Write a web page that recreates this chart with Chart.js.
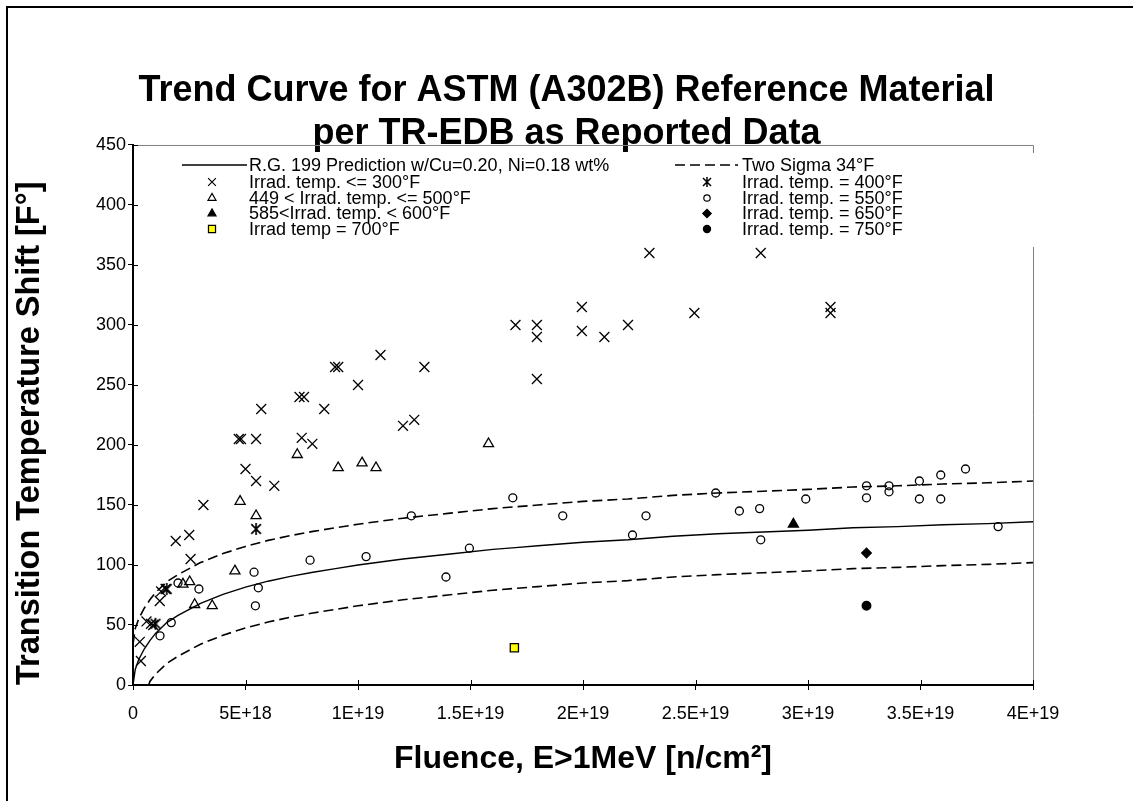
<!DOCTYPE html>
<html>
<head>
<meta charset="utf-8">
<script src="https://cdn.jsdelivr.net/npm/chart.js@4.4.1/dist/chart.umd.min.js"></script>
<style>
html,body{margin:0;padding:0;background:#fff;}
#wrap{position:relative;width:1133px;height:801px;}
</style>
</head>
<body>
<div id="wrap"><canvas id="c" width="1133" height="801"></canvas></div>
<script>
// ---------------- DATA ----------------
const chartTitle = ['Trend Curve for ASTM (A302B) Reference Material', 'per TR-EDB as Reported Data'];
const xAxisTitle = 'Fluence, E>1MeV [n/cm\u00B2]';
const yAxisTitle = 'Transition Temperature Shift [F\u00B0]';

const xTickValues = [0, 5e18, 1e19, 1.5e19, 2e19, 2.5e19, 3e19, 3.5e19, 4e19];
const xTickLabels = ['0', '5E+18', '1E+19', '1.5E+19', '2E+19', '2.5E+19', '3E+19', '3.5E+19', '4E+19'];
const yTickValues = [0, 50, 100, 150, 200, 250, 300, 350, 400, 450];
const yTickLabels = ['0', '50', '100', '150', '200', '250', '300', '350', '400', '450'];

// R.G. 199 prediction curve and two-sigma bands
const predFluence = [0, 0.1e18, 0.25e18, 0.5e18, 0.75e18, 1e18, 1.5e18, 2e18, 2.5e18, 3e18, 4e18, 5e18, 6e18, 7e18, 8e18, 9e18, 1e19, 1.2e19, 1.4e19, 1.6e19, 1.7e19, 1.8e19, 2e19, 2.2e19, 2.4e19, 2.6e19, 2.8e19, 3e19, 3.2e19, 3.4e19, 3.6e19, 3.8e19, 4e19];
const predShift   = [0, 13, 21, 30, 37, 43, 52, 58, 63, 68, 75.5, 81.5, 86.5, 90.5, 94, 97, 100, 105, 109, 113, 114.5, 116, 119, 121, 124, 126, 127.5, 129, 131, 132, 133.5, 134.5, 136];
const upperShift  = [34, 47, 55, 64, 71, 77, 86, 92, 97, 102, 109.5, 115.5, 120.5, 124.5, 128, 131, 134, 139, 143, 147, 148.5, 150, 153, 155, 158, 160, 161.5, 163, 165, 166, 167.5, 168.5, 170];
const lowerFluence = [0.7e18, 0.75e18, 1e18, 1.5e18, 2e18, 2.5e18, 3e18, 4e18, 5e18, 6e18, 7e18, 8e18, 9e18, 1e19, 1.2e19, 1.4e19, 1.6e19, 1.7e19, 1.8e19, 2e19, 2.2e19, 2.4e19, 2.6e19, 2.8e19, 3e19, 3.2e19, 3.4e19, 3.6e19, 3.8e19, 4e19];
const lowerShift   = [0, 3, 9, 18, 24, 29, 34, 41.5, 47.5, 52.5, 56.5, 60, 63, 66, 71, 75, 79, 80.5, 82, 85, 87, 90, 92, 93.5, 95, 97, 98, 99.5, 100.5, 102];

// Irrad. temp. <= 300F
const t300Fluence = [0.35e18, 0.3e18, 0.6e18, 0.8e18, 0.9e18, 1.19e18, 1.25e18, 1.45e18, 1.9e18, 2.5e18, 2.56e18, 3.13e18, 4.7e18, 4.8e18, 5.0e18, 5.47e18, 5.47e18, 5.7e18, 6.28e18, 7.4e18, 7.6e18, 7.5e18, 7.97e18, 8.5e18, 8.98e18, 9.12e18, 10e18, 11e18, 12e18, 12.5e18, 12.95e18, 17e18, 17.95e18, 17.95e18, 17.95e18, 19.95e18, 19.95e18, 20.95e18, 22e18, 22.95e18, 24.95e18, 27.9e18, 31e18, 31e18];
const t300Shift   = [20, 36, 53, 51, 50, 70, 78, 80, 120, 125, 105, 150, 205, 205, 180, 205, 170, 230, 166, 240, 240, 206, 201, 230, 265, 265, 250, 275, 216, 221, 265, 300, 300, 290, 255, 315, 295, 290, 300, 360, 310, 360, 315, 310];
// Irrad. temp. = 400F
const t400Fluence = [1.0e18, 1.5e18, 5.47e18];
const t400Shift   = [51, 80, 130];
// 449 < Irrad. temp. <= 500F
const t500Fluence = [2.22e18, 2.52e18, 2.74e18, 3.52e18, 4.53e18, 4.76e18, 5.47e18, 7.3e18, 9.12e18, 10.18e18, 10.8e18, 15.8e18];
const t500Shift   = [84, 86, 67, 66, 95, 153, 141, 192, 181, 185, 181, 201];
// Irrad. temp. = 550F
const t550Fluence = [1.2e18, 1.7e18, 2.0e18, 2.93e18, 5.38e18, 5.57e18, 5.44e18, 7.87e18, 10.36e18, 12.37e18, 13.91e18, 14.95e18, 16.88e18, 19.1e18, 22.2e18, 22.8e18, 25.9e18, 26.95e18, 27.85e18, 27.9e18, 29.9e18, 32.6e18, 32.6e18, 33.6e18, 33.6e18, 34.95e18, 34.95e18, 35.9e18, 35.9e18, 37e18, 38.45e18];
const t550Shift   = [41, 52, 85, 80, 94, 81, 66, 104, 107, 141, 90, 114, 156, 141, 125, 141, 160, 145, 147, 121, 155, 166, 156, 166, 161, 170, 155, 175, 155, 180, 132];
// 585 < Irrad. temp. < 600F
const t600Fluence = [29.35e18];
const t600Shift   = [134];
// Irrad. temp. = 650F
const t650Fluence = [32.6e18];
const t650Shift   = [110];
// Irrad temp = 700F
const t700Fluence = [16.95e18];
const t700Shift   = [31];
// Irrad. temp. = 750F
const t750Fluence = [32.6e18];
const t750Shift   = [66];

// ---------------- STYLE ----------------
const FONT = '"Liberation Sans", Arial, Helvetica, sans-serif';

function makeAsterisk(size, lw) {
  const c = document.createElement('canvas');
  c.width = size; c.height = size;
  const g = c.getContext('2d');
  g.strokeStyle = '#000'; g.lineWidth = lw;
  const m = size / 2, h = size / 2 - 1;
  g.beginPath();
  g.moveTo(m - h * 0.8, m - h * 0.8); g.lineTo(m + h * 0.8, m + h * 0.8);
  g.moveTo(m + h * 0.8, m - h * 0.8); g.lineTo(m - h * 0.8, m + h * 0.8);
  g.moveTo(m, m - h); g.lineTo(m, m + h);
  g.stroke();
  return c;
}
const asteriskBig = makeAsterisk(14, 1.7);
const asteriskSmall = makeAsterisk(12, 1.5);

const pts = (xs, ys) => xs.map((x, i) => ({x: x, y: ys[i]}));

function markerSet(label, xs, ys, style, radius, fill, legendStyle, legendRadius) {
  return {
    label: label,
    data: pts(xs, ys),
    showLine: false,
    pointStyle: style,
    pointRadius: radius,
    pointHoverRadius: radius,
    pointBorderColor: '#000',
    pointBackgroundColor: fill,
    pointBorderWidth: 1.3,
    legendStyle: legendStyle || style,
    legendRadius: legendRadius
  };
}

const datasets = [
  {label: 'R.G. 199 Prediction w/Cu=0.20, Ni=0.18 wt%', data: pts(predFluence, predShift), showLine: true, borderColor: '#000', borderWidth: 1.4, pointRadius: 0, tension: 0, fill: false, isLine: true},
  {label: 'Two Sigma 34\u00B0F', data: pts(predFluence, upperShift), showLine: true, borderColor: '#000', borderWidth: 1.6, borderDash: [10, 5], pointRadius: 0, tension: 0, fill: false, isLine: true},
  {label: 'Two Sigma lower', data: pts(lowerFluence, lowerShift), showLine: true, borderColor: '#000', borderWidth: 1.6, borderDash: [10, 5], pointRadius: 0, tension: 0, fill: false, isLine: true},
  markerSet('Irrad. temp. <= 300\u00B0F', t300Fluence, t300Shift, 'crossRot', 7, 'rgba(0,0,0,0)', 'crossRot', 5.5),
  markerSet('Irrad. temp. = 400\u00B0F', t400Fluence, t400Shift, asteriskBig, 7, 'rgba(0,0,0,0)', asteriskSmall, 5),
  markerSet('449 < Irrad. temp. <= 500\u00B0F', t500Fluence, t500Shift, 'triangle', 5.8, 'rgba(0,0,0,0)', 'triangle', 4.6),
  markerSet('Irrad. temp. = 550\u00B0F', t550Fluence, t550Shift, 'circle', 4, 'rgba(0,0,0,0)', 'circle', 3.2),
  markerSet('585<Irrad. temp. < 600\u00B0F', t600Fluence, t600Shift, 'triangle', 5.8, '#000', 'triangle', 4.6),
  markerSet('Irrad. temp. = 650\u00B0F', t650Fluence, t650Shift, 'rectRot', 4.8, '#000', 'rectRot', 4.2),
  markerSet('Irrad temp = 700\u00B0F', t700Fluence, t700Shift, 'rect', 5.8, '#ffff00', 'rect', 5),
  markerSet('Irrad. temp. = 750\u00B0F', t750Fluence, t750Shift, 'circle', 4.3, '#000', 'circle', 3.6)
];

const legendCol1 = ['R.G. 199 Prediction w/Cu=0.20, Ni=0.18 wt%', 'Irrad. temp. <= 300\u00B0F', '449 < Irrad. temp. <= 500\u00B0F', '585<Irrad. temp. < 600\u00B0F', 'Irrad temp = 700\u00B0F'];
const legendCol2 = ['Two Sigma 34\u00B0F', 'Irrad. temp. = 400\u00B0F', 'Irrad. temp. = 550\u00B0F', 'Irrad. temp. = 650\u00B0F', 'Irrad. temp. = 750\u00B0F'];

// ---------------- PLUGINS ----------------
const framePlugin = {
  id: 'framePlugin',
  beforeDraw(chart) {
    const ctx = chart.ctx;
    ctx.save();
    ctx.fillStyle = '#fff';
    ctx.fillRect(0, 0, chart.width, chart.height);
    ctx.strokeStyle = '#000';
    ctx.lineWidth = 2;
    ctx.beginPath();
    ctx.moveTo(7, chart.height + 5);
    ctx.lineTo(7, 7);
    ctx.lineTo(chart.width + 5, 7);
    ctx.stroke();
    ctx.restore();
  },
  beforeDatasetsDraw(chart) {
    const ctx = chart.ctx;
    const a = chart.chartArea;
    ctx.save();
    ctx.strokeStyle = '#7f7f7f';
    ctx.lineWidth = 1;
    ctx.beginPath();
    ctx.moveTo(a.left, a.top + 0.5);
    ctx.lineTo(a.right + 0.5, a.top + 0.5);
    ctx.lineTo(a.right + 0.5, a.bottom);
    ctx.stroke();
    // inner halves of the crossing tick marks
    ctx.strokeStyle = '#000';
    ctx.lineWidth = 1;
    ctx.beginPath();
    const xs = chart.scales.x, ys = chart.scales.y;
    xs.ticks.forEach(t => {
      const px = Math.round(xs.getPixelForValue(t.value)) + 0.5;
      ctx.moveTo(px, a.bottom); ctx.lineTo(px, a.bottom - 5);
    });
    ys.ticks.forEach(t => {
      const py = Math.round(ys.getPixelForValue(t.value)) + 0.5;
      ctx.moveTo(a.left, py); ctx.lineTo(a.left + 5, py);
    });
    ctx.stroke();
    ctx.restore();
  },
  afterDatasetsDraw(chart) {
    const ctx = chart.ctx;
    const a = chart.chartArea;
    ctx.save();
    // legend background
    ctx.fillStyle = '#fff';
    ctx.fillRect(178, a.top + 8, a.right + 8 - 178, 94);
    const rows = [165, 182, 198, 213.5, 229];
    const cols = [
      {names: legendCol1, lineX0: 182, lineX1: 247, markX: 212, textX: 249},
      {names: legendCol2, lineX0: 675, lineX1: 738, markX: 707, textX: 742}
    ];
    ctx.font = '18px ' + FONT;
    ctx.textBaseline = 'middle';
    ctx.textAlign = 'left';
    cols.forEach(col => {
      col.names.forEach((name, r) => {
        const ds = chart.data.datasets.find(d => d.label === name);
        const y = rows[r];
        if (ds.isLine) {
          ctx.save();
          ctx.strokeStyle = '#000';
          ctx.lineWidth = ds.borderWidth;
          ctx.setLineDash(ds.borderDash || []);
          ctx.beginPath();
          ctx.moveTo(col.lineX0, y); ctx.lineTo(col.lineX1, y);
          ctx.stroke();
          ctx.restore();
        } else {
          ctx.save();
          ctx.strokeStyle = '#000';
          ctx.fillStyle = ds.pointBackgroundColor;
          ctx.lineWidth = 1.2;
          Chart.helpers.drawPoint(ctx, {pointStyle: ds.legendStyle, radius: ds.legendRadius, borderWidth: 1.2, rotation: 0}, col.markX, y);
          ctx.restore();
        }
        ctx.fillStyle = '#000';
        ctx.fillText(name, col.textX, y + 1);
      });
    });
    ctx.restore();
  }
};

// ---------------- CHART ----------------
new Chart(document.getElementById('c'), {
  type: 'scatter',
  data: {datasets: datasets},
  plugins: [framePlugin],
  options: {
    responsive: false,
    animation: false,
    events: [],
    devicePixelRatio: 1,
    layout: {padding: {left: 0, top: 0, right: 0, bottom: 0}},
    plugins: {
      legend: {display: false},
      tooltip: {enabled: false},
      title: {
        display: true,
        text: chartTitle,
        color: '#000',
        font: {family: FONT, size: 36, weight: 'bold', lineHeight: 1.19},
        padding: {top: 69.6, bottom: -10.3}
      }
    },
    scales: {
      x: {
        type: 'linear', min: 0, max: 4e19,
        afterBuildTicks: s => { s.ticks = xTickValues.map(v => ({value: v})); },
        afterFit: s => { s.height = 116; },
        ticks: {
          callback: v => xTickLabels[xTickValues.indexOf(v)],
          color: '#000', font: {family: FONT, size: 18}, padding: 13, maxRotation: 0, autoSkip: false
        },
        grid: {drawOnChartArea: false, drawTicks: true, tickLength: 5, color: '#000', lineWidth: 1},
        border: {display: true, color: '#000', width: 2},
        title: {display: true, text: xAxisTitle, color: '#000', font: {family: FONT, size: 32, weight: 'bold', lineHeight: 1.2}, padding: {top: 0, bottom: 23}}
      },
      y: {
        type: 'linear', min: 0, max: 450,
        afterBuildTicks: s => { s.ticks = yTickValues.map(v => ({value: v})); },
        afterFit: s => { s.width = 133; },
        ticks: {
          callback: v => yTickLabels[yTickValues.indexOf(v)],
          color: '#000', font: {family: FONT, size: 18}, padding: 2, autoSkip: false
        },
        grid: {drawOnChartArea: false, drawTicks: true, tickLength: 5, color: '#000', lineWidth: 1},
        border: {display: true, color: '#000', width: 2},
        title: {display: true, text: yAxisTitle, align: 'start', color: '#000', font: {family: FONT, size: 32.5, weight: 'bold', lineHeight: 1.2}, padding: {top: 11, bottom: 0}}
      },
      rightSpace: {
        type: 'linear', position: 'right', display: true, min: 0, max: 1,
        afterFit: s => { s.width = 100; },
        ticks: {display: false},
        grid: {display: false, drawTicks: false},
        border: {display: false},
        title: {display: false}
      }
    }
  }
});
</script>
</body>
</html>
